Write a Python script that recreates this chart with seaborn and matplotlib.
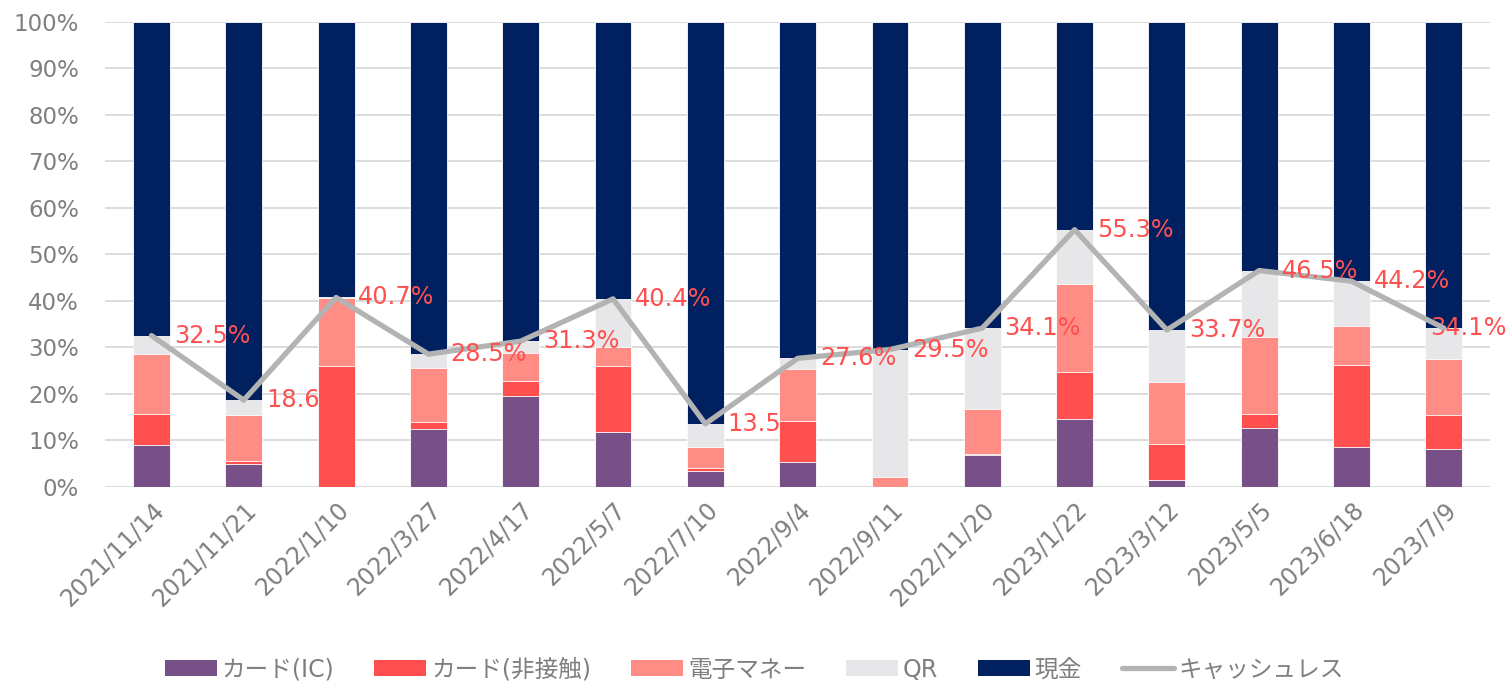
import numpy as np
import matplotlib.pyplot as plt
import seaborn as sns
from matplotlib.patches import Patch
from matplotlib.lines import Line2D

# Data (percent of payments)
categories = ['2021/11/14', '2021/11/21', '2022/1/10', '2022/3/27', '2022/4/17',
              '2022/5/7', '2022/7/10', '2022/9/4', '2022/9/11', '2022/11/20',
              '2023/1/22', '2023/3/12', '2023/5/5', '2023/6/18', '2023/7/9']
card_ic = [8.9, 4.9, 0.0, 12.4, 19.4, 11.7, 3.4, 5.2, 0.0, 6.8, 14.5, 1.3, 12.5, 8.5, 8.0]
card_nfc = [6.7, 0.7, 26.0, 1.5, 3.4, 14.3, 0.6, 9.0, 0.0, 0.1, 10.2, 7.9, 3.2, 17.7, 7.3]
emoney = [13.0, 9.8, 14.5, 11.6, 6.0, 4.0, 4.6, 11.2, 2.0, 9.7, 18.9, 13.2, 16.5, 8.4, 12.2]
qr = [3.9, 3.2, 0.2, 3.0, 2.5, 10.4, 4.9, 2.2, 27.5, 17.5, 11.7, 11.3, 14.3, 9.6, 6.6]
cash = [67.5, 81.4, 59.3, 71.5, 68.7, 59.6, 86.5, 72.4, 70.5, 65.9, 44.7, 66.3, 53.5, 55.8, 65.9]
cashless = [32.5, 18.6, 40.7, 28.5, 31.3, 40.4, 13.5, 27.6, 29.5, 34.1, 55.3, 33.7, 46.5, 44.2, 34.1]

series_names = ['カード(IC)', 'カード(非接触)', '電子マネー', 'QR', '現金']
line_name = 'キャッシュレス'

colors = ['#775088', '#FF5050', '#FF8C85', '#E7E6E8', '#002060']
line_color = '#B3B3B3'
label_color = '#FF5050'
text_grey = '#7F7F7F'

sns.set_theme(style='white')
plt.rcParams['font.family'] = ['DejaVu Sans', 'Noto Sans CJK JP']

fig, ax = plt.subplots(figsize=(15.09, 6.84), dpi=100)
fig.subplots_adjust(left=0.0698, right=0.9874, bottom=0.2887, top=0.9678)

# stacked bars: draw cumulative totals from the tallest down
layers = [card_ic, card_nfc, emoney, qr, cash]
cum = np.cumsum(np.array(layers, dtype=float), axis=0)
for k in range(len(layers) - 1, -1, -1):
    sns.barplot(x=categories, y=cum[k], order=categories, color=colors[k],
                saturation=1, width=0.4, edgecolor='white', linewidth=0.6,
                ax=ax, zorder=2)

x = np.arange(len(categories))
sns.lineplot(x=x, y=cashless, sort=False, color=line_color, linewidth=3.8,
             ax=ax, zorder=4)

# labels hidden partly behind the next bar in the original
behind = {1, 6}
last = len(cashless) - 1
for i, v in enumerate(cashless):
    dx = 16
    z = 1 if i in behind else 5
    if i == last:
        # pushed left to stay inside the figure, under the line
        dx, z = -10, 3
    ax.annotate(f'{v:.1f}%', (x[i], v), xytext=(dx, 0), textcoords='offset points',
                ha='left', va='center', fontsize=17.3, color=label_color,
                zorder=z, annotation_clip=False)

ax.set_xlim(-0.5, len(categories) - 0.5)
ax.set_ylim(0, 100)
ax.set_yticks(np.arange(0, 101, 10))
ax.set_yticklabels([f'{t}%' for t in range(0, 101, 10)])
ax.set_xticks(x)
ax.set_xticklabels(categories, rotation=45, ha='right', rotation_mode='anchor')
ax.tick_params(axis='y', labelsize=16.5, labelcolor=text_grey, length=0, pad=19)
ax.tick_params(axis='x', labelsize=17, labelcolor=text_grey, length=0, pad=8)
ax.set_xlabel('')
ax.set_ylabel('')
ax.yaxis.grid(True, color='#D9D9D9', linewidth=1.3, zorder=0)
ax.set_axisbelow(True)
for s in ax.spines.values():
    s.set_visible(False)

handles = [Patch(facecolor=c, edgecolor='none') for c in colors]
handles.append(Line2D([0], [0], color=line_color, linewidth=3.8))
fig.legend(handles, series_names + [line_name], loc='lower center',
           bbox_to_anchor=(0.5, 0.0), ncol=6, frameon=False, fontsize=17,
           labelcolor=text_grey, handlelength=2.2, handleheight=0.68,
           handletextpad=0.2, columnspacing=1.7, borderaxespad=0.0,
           borderpad=0.1)

fig.savefig('out.png', dpi=100)
